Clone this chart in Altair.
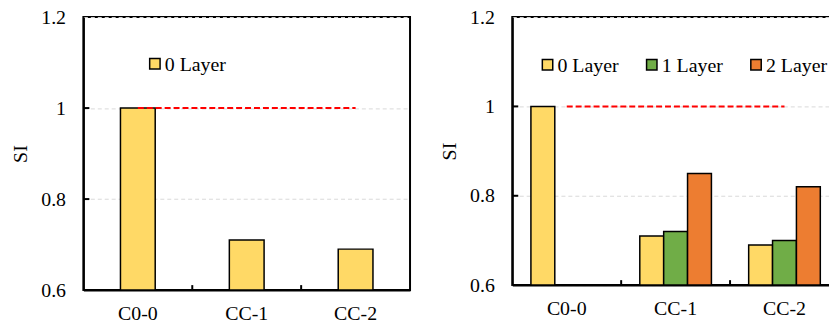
import altair as alt
import pandas as pd

# ---- data ----
cats = ["C0-0", "CC-1", "CC-2"]
layers = ["0 Layer", "1 Layer", "2 Layer"]
colors = ["#FFD966", "#70AD47", "#ED7D31"]

left_cat = ["C0-0", "CC-1", "CC-2"]
left_layer = ["0 Layer", "0 Layer", "0 Layer"]
left_si = [1.0, 0.71, 0.69]

right_cat = ["C0-0", "CC-1", "CC-1", "CC-1", "CC-2", "CC-2", "CC-2"]
right_layer = ["0 Layer", "0 Layer", "1 Layer", "2 Layer", "0 Layer", "1 Layer", "2 Layer"]
right_si = [1.0, 0.71, 0.72, 0.85, 0.69, 0.70, 0.82]

ref_start, ref_end, ref_value = "C0-0", "CC-2", 1.0
y_min, y_max = 0.6, 1.2
y_ticks = [0.6, 0.8, 1.0, 1.2]
inner_y_ticks = [0.8, 1.0]
boundaries = ["CC-1", "CC-2"]

FONT = "Liberation Serif"
FS = 20


def legend_entry(label, color, sx, sy):
    src = pd.DataFrame({"label": [label]})
    sq = alt.Chart(src).mark_square(size=110, fill=color, stroke="black",
                                    strokeWidth=1.5, opacity=1).encode(
        x=alt.value(sx), y=alt.value(sy))
    tx = alt.Chart(src).mark_text(align="left", baseline="middle", font=FONT,
                                  fontSize=FS, color="black").encode(
        x=alt.value(sx + 10), y=alt.value(sy + 1), text=alt.Text("label:N"))
    return [sq, tx]


def panel(cat, lay, si, leg_labels, leg_colors, leg_x, leg_step, leg_y, width, height, offset):
    df = pd.DataFrame({"cat": cat, "layer": lay, "si": si, "base": [y_min] * len(si)})
    xscale = alt.Scale(domain=cats, paddingInner=0, paddingOuter=0)
    yscale = alt.Scale(domain=[y_min, y_max], nice=False, zero=False)
    xaxis = alt.Axis(title=None, labelAngle=0, ticks=False, grid=False,
                     domainColor="black", domainWidth=2, labelPadding=14,
                     labelFont=FONT, labelFontSize=FS, labelColor="black")
    yaxis = alt.Axis(values=y_ticks, format=".1~f", title="SI", grid=True,
                     gridColor="#D9D9D9", gridDash=[4, 3], gridWidth=1,
                     ticks=False, domainColor="black", domainWidth=2,
                     labelPadding=18, titlePadding=10,
                     labelFont=FONT, labelFontSize=FS, labelColor="black",
                     titleFont=FONT, titleFontSize=FS, titleColor="black",
                     titleFontWeight="normal")
    enc = dict(
        x=alt.X("cat:N", scale=xscale, axis=xaxis),
        y=alt.Y("si:Q", scale=yscale, axis=yaxis),
        y2=alt.Y2("base:Q"),
        color=alt.Color("layer:N", scale=alt.Scale(domain=layers, range=colors), legend=None),
    )
    if offset:
        enc["xOffset"] = alt.XOffset("layer:N", scale=alt.Scale(domain=layers, paddingInner=0,
                                                               paddingOuter=0.78))
        bars = alt.Chart(df).mark_bar(stroke="black", strokeWidth=1.5).encode(**enc)
    else:
        bars = alt.Chart(df).mark_bar(size=35, stroke="black", strokeWidth=1.5).encode(**enc)

    ref = alt.Chart(pd.DataFrame({"a": [ref_start], "b": [ref_end], "v": [ref_value]})).mark_rule(
        color="#FF0000", strokeWidth=2, strokeDash=[6, 3]
    ).encode(
        x=alt.X("a:N", bandPosition=0.5),
        x2=alt.X2("b:N"),
        y=alt.Y("v:Q"),
    )
    xt = alt.Chart(pd.DataFrame({"c": boundaries})).mark_rule(color="black", strokeWidth=2).encode(
        x=alt.X("c:N", bandPosition=0),
        y=alt.value(height),
        y2=alt.value(height - 5),
    )
    yt = alt.Chart(pd.DataFrame({"t": inner_y_ticks})).mark_rule(color="black", strokeWidth=2).encode(
        y=alt.Y("t:Q"),
        x=alt.value(0),
        x2=alt.value(6),
    )
    parts = [bars, ref, xt, yt]
    for i, (lab, col) in enumerate(zip(leg_labels, leg_colors)):
        parts += legend_entry(lab, col, leg_x + i * leg_step, leg_y)
    return alt.layer(*parts).properties(width=width, height=height)


left = panel(left_cat, left_layer, left_si, layers[:1], colors[:1], 72, 105, 47, 329, 275, False)
right = panel(right_cat, right_layer, right_si, layers, colors, 35.5, 105, 48, 329, 270, True)

chart = alt.hconcat(left, right, spacing=28).properties(
    padding={"left": 10, "top": 5, "right": -11, "bottom": 0},
    background="white",
).configure_view(stroke="black", strokeWidth=2)

chart.save("out.html", embed_options={"renderer": "svg", "actions": False})
